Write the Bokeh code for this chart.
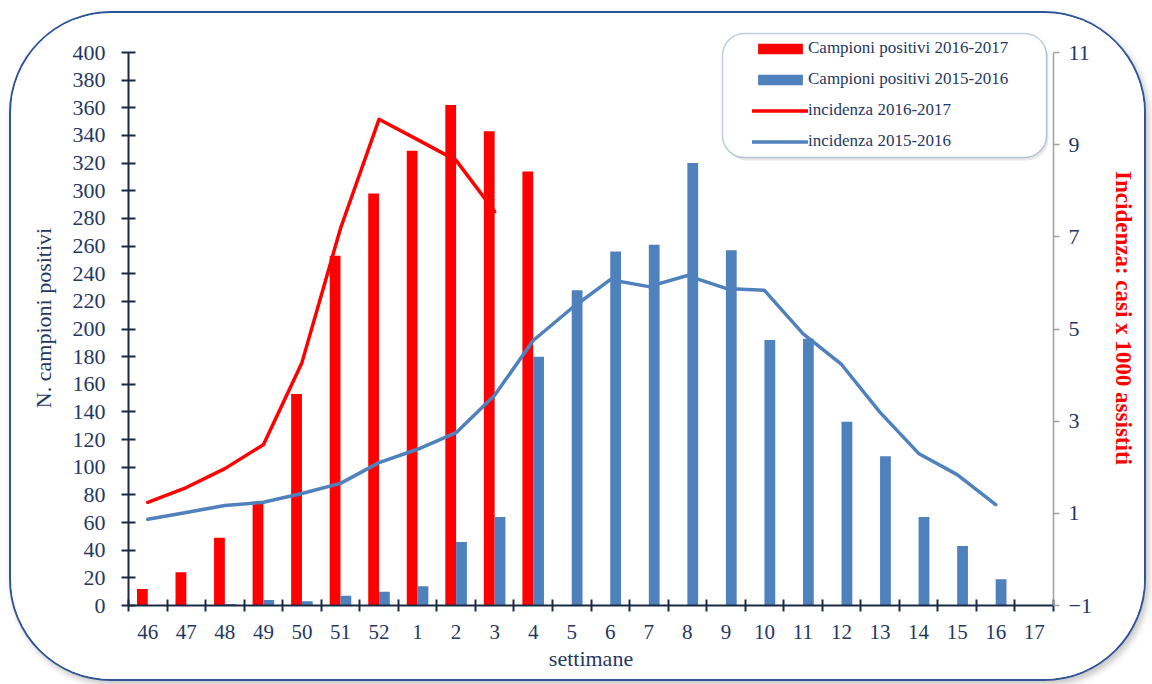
from bokeh.plotting import figure
from bokeh.models import (ColumnDataSource, Range1d, LinearAxis, FixedTicker, Legend,
                          LegendItem, BoxAnnotation)
from bokeh.transform import dodge
from bokeh.embed import file_html
from bokeh.resources import INLINE

# ---- data ----
weeks = ["46", "47", "48", "49", "50", "51", "52", "1", "2", "3", "4", "5",
         "6", "7", "8", "9", "10", "11", "12", "13", "14", "15", "16", "17"]
pos_2016_2017 = [12, 24, 49, 75, 153, 253, 298, 329, 362, 343, 314]
pos_2015_2016 = [0, 0, 1, 4, 3, 7, 10, 14, 46, 64, 180, 228, 256, 261, 320, 257,
                 192, 193, 133, 108, 64, 43, 19]
inc_2016_2017 = [1.24, 1.56, 1.97, 2.49, 4.27, 7.18, 9.55, 9.11, 8.66, 7.55]
inc_2015_2016 = [0.87, 1.02, 1.17, 1.24, 1.43, 1.65, 2.10, 2.39, 2.75, 3.56, 4.75,
                 5.45, 6.07, 5.92, 6.16, 5.88, 5.84, 4.90, 4.23, 3.19, 2.30, 1.84, 1.19]
left_ticks = list(range(0, 401, 20))
right_ticks = [-1, 1, 3, 5, 7, 9, 11]

RED = "#FF0000"
BLUE = "#4F81BD"
NAVY = "#1F3864"
AXIS = "#1B2A44"
FONT = "Liberation Serif"

n = len(weeks)
centers = [i + 0.5 for i in range(n)]

src_red = ColumnDataSource(dict(x=centers[:len(pos_2016_2017)], y=pos_2016_2017))
src_blue = ColumnDataSource(dict(x=centers[:len(pos_2015_2016)], y=pos_2015_2016))
src_ired = ColumnDataSource(dict(x=centers[:len(inc_2016_2017)], y=inc_2016_2017))
src_iblue = ColumnDataSource(dict(x=centers[:len(inc_2015_2016)], y=inc_2015_2016))

# plot frame: top at page y=30 (room for the legend box), 400 at y=52, 0 at y=605
Y_TOP = 400 * 575 / 553
R_TOP = -1 + 12 * 575 / 553

p = figure(width=1133, height=666, x_range=Range1d(0, n), y_range=Range1d(0, Y_TOP),
           output_backend="svg", toolbar_location=None,
           x_axis_type=None, y_axis_type=None,
           min_border_left=117, min_border_right=91, min_border_top=17, min_border_bottom=74)
p.margin = (13, 0, 0, 11)
p.styles = {
    "border-radius": "100px",
    "overflow": "hidden",
    "box-shadow": "0 0 0 2px #2F5597, 3px 4px 6px 2px rgba(0,0,0,0.22)",
}
p.outline_line_color = None
p.background_fill_color = "white"
p.border_fill_color = "white"
p.extra_y_ranges = {"inc": Range1d(-1, R_TOP)}

# ---- bars ----
r_red = p.vbar(x=dodge("x", -0.14), top="y", width=0.28, source=src_red,
               fill_color=RED, line_color=None)
r_blue = p.vbar(x=dodge("x", 0.14), top="y", width=0.28, source=src_blue,
                fill_color=BLUE, line_color=None)

# ---- lines ----
l_red = p.line("x", "y", source=src_ired, y_range_name="inc", line_color=RED,
               line_width=3.5, line_join="round", line_cap="round")
l_blue = p.line("x", "y", source=src_iblue, y_range_name="inc", line_color=BLUE,
                line_width=3.5, line_join="round", line_cap="round")

# ---- axes ----
xaxis = LinearAxis(
    ticker=FixedTicker(ticks=centers, minor_ticks=list(range(n + 1))),
    major_label_overrides={c: w for c, w in zip(centers, weeks)},
    axis_label="settimane",
)
xaxis.major_tick_line_color = None
xaxis.minor_tick_in = 6
xaxis.minor_tick_out = 6
xaxis.minor_tick_line_color = AXIS
xaxis.minor_tick_line_width = 2
xaxis.axis_line_color = AXIS
xaxis.axis_line_width = 2
xaxis.major_label_text_font = FONT
xaxis.major_label_text_font_size = "21px"
xaxis.major_label_text_color = NAVY
xaxis.major_label_standoff = 13
xaxis.axis_label_text_font = FONT
xaxis.axis_label_text_font_size = "22px"
xaxis.axis_label_text_font_style = "normal"
xaxis.axis_label_text_color = NAVY
xaxis.axis_label_standoff = 4
p.add_layout(xaxis, "below")

yaxis = LinearAxis(ticker=FixedTicker(ticks=left_ticks), bounds=(0, 400),
                   axis_label="N. campioni positivi")
yaxis.major_tick_in = 7
yaxis.major_tick_out = 7
yaxis.major_tick_line_color = AXIS
yaxis.major_tick_line_width = 2
yaxis.minor_tick_line_color = None
yaxis.axis_line_color = AXIS
yaxis.axis_line_width = 2
yaxis.major_label_text_font = FONT
yaxis.major_label_text_font_size = "22px"
yaxis.major_label_text_color = NAVY
yaxis.major_label_standoff = 16
yaxis.axis_label_text_font = FONT
yaxis.axis_label_text_font_size = "22px"
yaxis.axis_label_text_font_style = "normal"
yaxis.axis_label_text_color = NAVY
yaxis.axis_label_standoff = 14
p.add_layout(yaxis, "left")

raxis = LinearAxis(y_range_name="inc", ticker=FixedTicker(ticks=right_ticks), bounds=(-1, 11),
                   axis_label="Incidenza: casi x 1000 assistiti")
raxis.major_tick_in = 0
raxis.major_tick_out = 6
raxis.major_tick_line_color = "#A0A0A0"
raxis.major_tick_line_width = 1.5
raxis.minor_tick_line_color = None
raxis.axis_line_color = "#A0A0A0"
raxis.axis_line_width = 1.5
raxis.major_label_text_font = FONT
raxis.major_label_text_font_size = "22px"
raxis.major_label_text_color = NAVY
raxis.major_label_standoff = 9
raxis.axis_label_text_font = FONT
raxis.axis_label_text_font_size = "23px"
raxis.axis_label_text_font_style = "bold"
raxis.axis_label_text_color = RED
raxis.axis_label_standoff = 16
p.add_layout(raxis, "right")

# ---- legend (rounded box drawn separately) ----
legend_shadow = BoxAnnotation(left=713, right=1037, top=23, bottom=147,
                              left_units="canvas", right_units="canvas",
                              top_units="canvas", bottom_units="canvas",
                              fill_color="#BBBBBB", fill_alpha=0.35,
                              line_color=None, border_radius=22)
legend_box = BoxAnnotation(left=711, right=1035, top=20, bottom=144,
                           left_units="canvas", right_units="canvas",
                           top_units="canvas", bottom_units="canvas",
                           fill_color="white", fill_alpha=1,
                           line_color="#2F5597", line_width=1.5, border_radius=22)
p.add_layout(legend_shadow)
p.add_layout(legend_box)

legend = Legend(items=[
    LegendItem(label="Campioni positivi 2016-2017", renderers=[r_red]),
    LegendItem(label="Campioni positivi 2015-2016", renderers=[r_blue]),
    LegendItem(label="incidenza 2016-2017", renderers=[l_red]),
    LegendItem(label="incidenza 2015-2016", renderers=[l_blue]),
], location=(624, 454))
legend.border_line_color = None
legend.background_fill_alpha = 0
legend.padding = 0
legend.margin = 0
legend.spacing = 11
legend.glyph_width = 56
legend.glyph_height = 13
legend.label_height = 20
legend.label_standoff = 0
legend.label_text_font = FONT
legend.label_text_font_size = "17px"
legend.label_text_color = NAVY
p.add_layout(legend)

open("out.html", "w").write(file_html(p, INLINE))
